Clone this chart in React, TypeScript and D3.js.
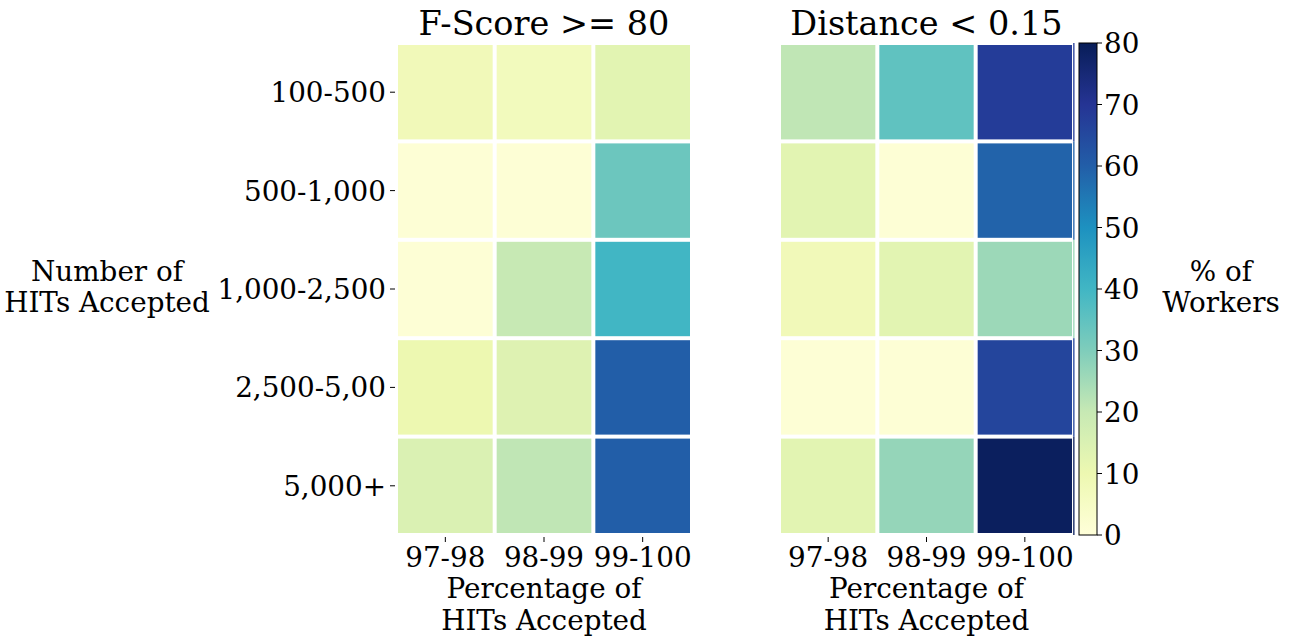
import * as d3 from "d3";

const rowLabels = ["100-500", "500-1,000", "1,000-2,500", "2,500-5,00", "5,000+"];
const colLabels = ["97-98", "98-99", "99-100"];
const fscoreValues = [
  [8, 7, 13],
  [1, 1, 33],
  [1, 20, 40],
  [10, 14, 60],
  [15, 21, 60],
];
const distanceValues = [
  [21, 35, 68],
  [13, 1, 59],
  [8, 13, 26],
  [1, 1, 66],
  [13, 27, 79],
];
const cbarTicks = [0, 10, 20, 30, 40, 50, 60, 70, 80];
const ylgnbu = ["#ffffd9", "#edf8b1", "#c7e9b4", "#7fcdbb", "#41b6c4", "#1d91c0", "#225ea8", "#253494", "#081d58"];

const W = 1294;
const H = 643;
const top = 43;
const bottom = 535;
const font = "DejaVu Serif, serif";
const fs = 27.8;

const color = d3
  .scaleLinear<string>()
  .domain(cbarTicks)
  .range(ylgnbu)
  .interpolate(d3.interpolateRgb)
  .clamp(true);

const yBand = d3.scaleBand<string>().domain(rowLabels).range([top, bottom]);

function Heatmap({ x0, x1, title, values, showY, edge }: { x0: number; x1: number; title: string; values: number[][]; showY: boolean; edge: boolean }) {
  const xBand = d3.scaleBand<string>().domain(colLabels).range([x0, x1]);
  const cx = (x0 + x1) / 2;
  return (
    <g>
      {values.map((row, i) =>
        row.map((v, j) => (
          <rect
            key={`${i}-${j}`}
            x={xBand(colLabels[j])! + 2}
            y={yBand(rowLabels[i])! + 2}
            width={xBand.bandwidth() - 4}
            height={yBand.bandwidth() - 4}
            fill={color(v)}
          />
        ))
      )}
      {/* thin sliver of the last column peeking past the white grid line */}
      {edge &&
        values.map((row, i) => (
          <rect
            key={`edge-${i}`}
            x={x1 - 0.8}
            y={yBand(rowLabels[i])!}
            width={1.3}
            height={yBand.bandwidth()}
            fill={color(row[row.length - 1])}
          />
        ))}
      <text x={cx} y={35} textAnchor="middle" fontSize={33.5} fontFamily={font}>
        {title}
      </text>
      {colLabels.map((c) => {
        const x = xBand(c)! + xBand.bandwidth() / 2;
        return (
          <g key={c}>
            <line x1={x} x2={x} y1={bottom + 2} y2={bottom + 7} stroke="#000" strokeWidth={1} />
            <text x={x} y={567} textAnchor="middle" fontSize={fs} fontFamily={font}>
              {c}
            </text>
          </g>
        );
      })}
      <text x={cx} y={598} textAnchor="middle" fontSize={fs} fontFamily={font}>
        Percentage of
      </text>
      <text x={cx} y={630} textAnchor="middle" fontSize={fs} fontFamily={font}>
        HITs Accepted
      </text>
      {showY &&
        rowLabels.map((r) => {
          const y = yBand(r)! + yBand.bandwidth() / 2;
          return (
            <g key={r}>
              <line x1={x0 - 6} x2={x0 - 1} y1={y} y2={y} stroke="#000" strokeWidth={1} />
              <text x={x0 - 10} y={y + 10} textAnchor="end" fontSize={fs} fontFamily={font}>
                {r}
              </text>
            </g>
          );
        })}
    </g>
  );
}

export default function App() {
  const cbX0 = 1079;
  const cbX1 = 1097;
  const cbScale = d3.scaleLinear().domain([0, 80]).range([bottom, top]);
  const stops = d3.range(0, 81, 5);
  return (
    <div style={{ position: "absolute", left: 0, top: 0 }}>
      <svg width={W} height={H} style={{ background: "#fff", display: "block" }}>
        <defs>
          <linearGradient id="cbar" x1="0" y1="1" x2="0" y2="0">
            {stops.map((s) => (
              <stop key={s} offset={`${(s / 80) * 100}%`} stopColor={color(s)} />
            ))}
          </linearGradient>
        </defs>
        <Heatmap x0={396} x1={692} title="F-Score >= 80" values={fscoreValues} showY={true} edge={false} />
        <Heatmap x0={779} x1={1074} title="Distance < 0.15" values={distanceValues} showY={false} edge={true} />

        <text x={107} y={281} textAnchor="middle" fontSize={fs} fontFamily={font}>
          Number of
        </text>
        <text x={107} y={312} textAnchor="middle" fontSize={fs} fontFamily={font}>
          HITs Accepted
        </text>

        <rect x={cbX0} y={top} width={cbX1 - cbX0} height={bottom - top} fill="url(#cbar)" stroke="#000" strokeWidth={1} />
        {cbarTicks.map((t) => (
          <g key={t}>
            <line x1={cbX1} x2={cbX1 + 5} y1={cbScale(t)} y2={cbScale(t)} stroke="#000" strokeWidth={1} />
            <text x={cbX1 + 7} y={cbScale(t) + 10} fontSize={fs} fontFamily={font}>
              {t}
            </text>
          </g>
        ))}
        <text x={1221} y={281} textAnchor="middle" fontSize={fs} fontFamily={font}>
          % of
        </text>
        <text x={1221} y={312} textAnchor="middle" fontSize={fs} fontFamily={font}>
          Workers
        </text>
      </svg>
    </div>
  );
}
